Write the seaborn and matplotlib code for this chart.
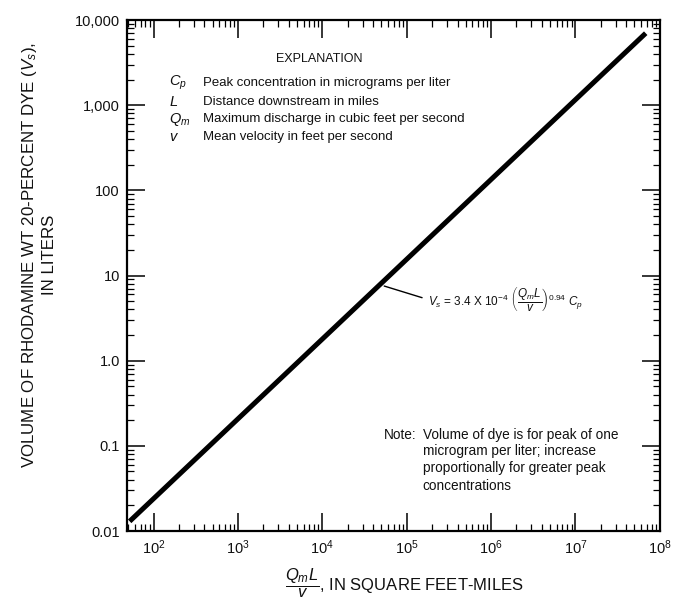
import matplotlib
matplotlib.use("Agg")
import matplotlib.pyplot as plt
from matplotlib.ticker import LogLocator, FixedLocator, FixedFormatter, NullFormatter
import seaborn as sns
import pandas as pd

# Relation between the flow term QmL/v and dye volume (end points of the design line)
flow_term = [52, 6.8e7]
dye_volume = [0.013, 7000]

x_ticks = [1e2, 1e3, 1e4, 1e5, 1e6, 1e7, 1e8]
x_tick_labels = [r"$10^{2}$", r"$10^{3}$", r"$10^{4}$", r"$10^{5}$",
                 r"$10^{6}$", r"$10^{7}$", r"$10^{8}$"]
y_ticks = [0.01, 0.1, 1.0, 10, 100, 1000, 10000]
y_tick_labels = ["0.01", "0.1", "1.0", "10", "100", "1,000", "10,000"]

explanation_symbols = [r"$C_p$", r"$L$", r"$Q_m$", r"$v$"]
explanation_texts = [
    "Peak concentration in micrograms per liter",
    "Distance downstream in miles",
    "Maximum discharge in cubic feet per second",
    "Mean velocity in feet per second",
]
note_lines = [
    "Volume of dye is for peak of one",
    "microgram per liter; increase",
    "proportionally for greater peak",
    "concentrations",
]

sns.set_style("ticks")
plt.rcParams["font.family"] = ["Liberation Sans", "DejaVu Sans"]
plt.rcParams["mathtext.fontset"] = "custom"
plt.rcParams["mathtext.rm"] = "Liberation Sans"
plt.rcParams["mathtext.it"] = "Liberation Sans:italic"
plt.rcParams["mathtext.bf"] = "Liberation Sans:bold"

fig = plt.figure(figsize=(6.74, 6.03), dpi=100)
ax = fig.add_axes([0.188, 0.1194, 0.791, 0.8474])

df = pd.DataFrame({"flow": flow_term, "volume": dye_volume})
sns.lineplot(data=df, x="flow", y="volume", ax=ax, color="black",
             linewidth=3.6, solid_capstyle="butt")

ax.set_xscale("log")
ax.set_yscale("log")
ax.set_xlim(48, 1e8)
ax.set_ylim(0.01, 10000)

ax.xaxis.set_major_locator(FixedLocator(x_ticks))
ax.xaxis.set_major_formatter(FixedFormatter(x_tick_labels))
ax.yaxis.set_major_locator(FixedLocator(y_ticks))
ax.yaxis.set_major_formatter(FixedFormatter(y_tick_labels))
for axis in (ax.xaxis, ax.yaxis):
    axis.set_minor_locator(LogLocator(base=10, subs=range(2, 10), numticks=20))
    axis.set_minor_formatter(NullFormatter())

ax.tick_params(which="both", direction="in", top=True, right=True,
               color="black", labelcolor="#111111")
ax.tick_params(which="major", length=13, width=1.1, labelsize=10.5, pad=5)
ax.tick_params(which="minor", length=5, width=0.9)
for s in ax.spines.values():
    s.set_linewidth(1.6)
    s.set_color("black")
    s.set_visible(True)

ax.set_ylabel("VOLUME OF RHODAMINE WT 20-PERCENT DYE ($V_s$),\nIN LITERS",
              fontsize=12.2, color="#111111", linespacing=1.25)
ax.yaxis.set_label_coords(-0.13, 0.54)
ax.set_xlabel(r"$\dfrac{Q_mL}{v}$, IN SQUARE FEET-MILES", fontsize=12,
              color="#111111")
ax.xaxis.set_label_coords(0.52, -0.07)

# Explanation block
ax.text(0.362, 0.924, "EXPLANATION", transform=ax.transAxes, fontsize=9,
        ha="center", va="center", color="#111111")
rows_y = [0.877, 0.840, 0.806, 0.771]
for sym, txt, yy in zip(explanation_symbols, explanation_texts, rows_y):
    ax.text(0.079, yy, sym, transform=ax.transAxes, fontsize=10.5,
            ha="left", va="center", color="#111111")
    ax.text(0.143, yy, txt, transform=ax.transAxes, fontsize=9.5,
            ha="left", va="center", color="#111111")

# Equation with leader line to the curve
ax.annotate("", xy=(0.478, 0.481), xytext=(0.559, 0.455),
            xycoords="axes fraction", textcoords="axes fraction",
            arrowprops=dict(arrowstyle="-", color="black", lw=1.0))
ax.text(0.566, 0.452,
        r"$V_s$ = 3.4 X 10$^{-4}$ $\left(\dfrac{Q_mL}{v}\right)^{0.94}$ $C_p$",
        transform=ax.transAxes, fontsize=8.5, ha="left", va="center",
        color="#111111")

# Note block
note_y = [0.188, 0.157, 0.123, 0.088]
ax.text(0.543, note_y[0], "Note:", transform=ax.transAxes, fontsize=9.8,
        ha="right", va="center", color="#111111")
for line, yy in zip(note_lines, note_y):
    ax.text(0.555, yy, line, transform=ax.transAxes, fontsize=9.8,
            ha="left", va="center", color="#111111")

fig.savefig("out.png", dpi=100, facecolor="white")
